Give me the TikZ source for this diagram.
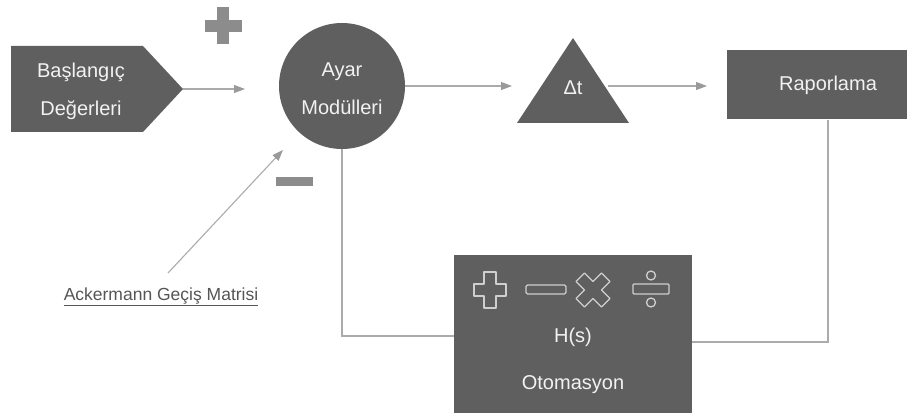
\documentclass[tikz,border=0pt]{standalone}
\usepackage{fontspec}
\setmainfont{Liberation Sans}
\usetikzlibrary{arrows.meta}
\definecolor{blockgray}{HTML}{5F5F5F}
\definecolor{signgray}{HTML}{8C8C8C}
\definecolor{linegray}{HTML}{ABABAB}
\definecolor{tipgray}{HTML}{9A9A9A}
\definecolor{icongray}{HTML}{CFCFCF}
\definecolor{labelgray}{HTML}{555555}
\tikzset{
  lbl/.style={text=white!95!black, font=\fontsize{20}{38}\selectfont, align=center, inner sep=0pt},
  blockbox/.style={rectangle, fill=blockgray, draw=none, inner sep=0pt},
  arr/.style={draw=linegray, line width=1.1pt, -{Triangle[length=11pt,width=8pt,color=tipgray]}},
  fb/.style={draw=linegray, line width=1.1pt},
  icon/.style={draw=icongray, line width=1.3pt, line join=round}
}
\begin{document}
\begin{tikzpicture}[x=1pt, y=-1pt]
  \useasboundingbox (0,0) rectangle (914,417);

  % input block (pentagon arrow)
  \fill[blockgray] (11,46) -- (143,46) -- (183,89) -- (143,132) -- (11,132) -- cycle;
  \node[lbl] (start) at (81,91) {Başlangıç\\Değerleri};
  \coordinate (starttip) at (183,89);
  \coordinate (sumin) at (245,89);

  % summing controller
  \node[circle, fill=blockgray, minimum size=126pt, inner sep=0pt] (ayar) at (342,86) {};
  \node[lbl] (ayartext) at (342,89) {Ayar\\Modülleri};

  % plus and minus signs
  \fill[signgray] (204.5,20) rectangle (241.5,32);
  \fill[signgray] (217,7.5) rectangle (229,44.5);
  \fill[signgray] (276,177) rectangle (313,186);

  % delay triangle
  \fill[blockgray] (517,123) -- (573,38) -- (629,123) -- cycle;
  \node[lbl] (delta) at (573,88) {Δt};
  \coordinate (trin) at (512,86);
  \coordinate (triout) at (608,86);

  % reporting block
  \node[blockbox, minimum width=180pt, minimum height=69pt] (rap) at (817,85) {};
  \node[lbl] (raptext) at (828,85) {Raporlama};
  \coordinate (rapin) at (707,86);

  % automation block
  \node[blockbox, minimum width=238pt, minimum height=158pt] (auto) at (573,334) {};
  \node[lbl] (hs) at (573,337) {H(s)};
  \node[lbl] (oto) at (573,385) {Otomasyon};

  % operator icons
  \draw[icon] (484,272) -- (496,272) -- (496,284) -- (506,284) -- (506,296) -- (496,296) -- (496,308)
      -- (484,308) -- (484,296) -- (474,296) -- (474,284) -- (484,284) -- cycle;
  \draw[icon, rounded corners=1.5pt] (526,285) rectangle (566,294);
  \begin{scope}[shift={(593,290)}, rotate=45]
    \draw[icon] (-6,-18) -- (6,-18) -- (6,-6) -- (18,-6) -- (18,6) -- (6,6) -- (6,18)
        -- (-6,18) -- (-6,6) -- (-18,6) -- (-18,-6) -- (-6,-6) -- cycle;
  \end{scope}
  \draw[icon, rounded corners=1pt] (633,284) rectangle (669,294);
  \draw[icon] (651,275.5) circle (4.5pt);
  \draw[icon] (651,302.5) circle (4.5pt);

  % external input label
  \node[text=labelgray, font=\fontsize{17.5}{20}\selectfont, inner sep=0pt] (ack) at (161,297)
    {\underline{Ackermann Geçiş Matrisi}};
  \coordinate (ackstart) at (168,273);
  \coordinate (ackend) at (283,150);

  % connectors
  \draw[arr] (starttip) -- (sumin);
  \draw[arr] (ackstart) -- (ackend);
  \draw[arr] (ayar.east) -- (trin);
  \draw[arr] (triout) -- (rapin);
  \draw[fb] ([xshift=11pt]rap.south) |- ([yshift=-8pt]auto.east);
  \draw[fb] (ayar.south) |- ([yshift=-2pt]auto.west);
\end{tikzpicture}
\end{document}
